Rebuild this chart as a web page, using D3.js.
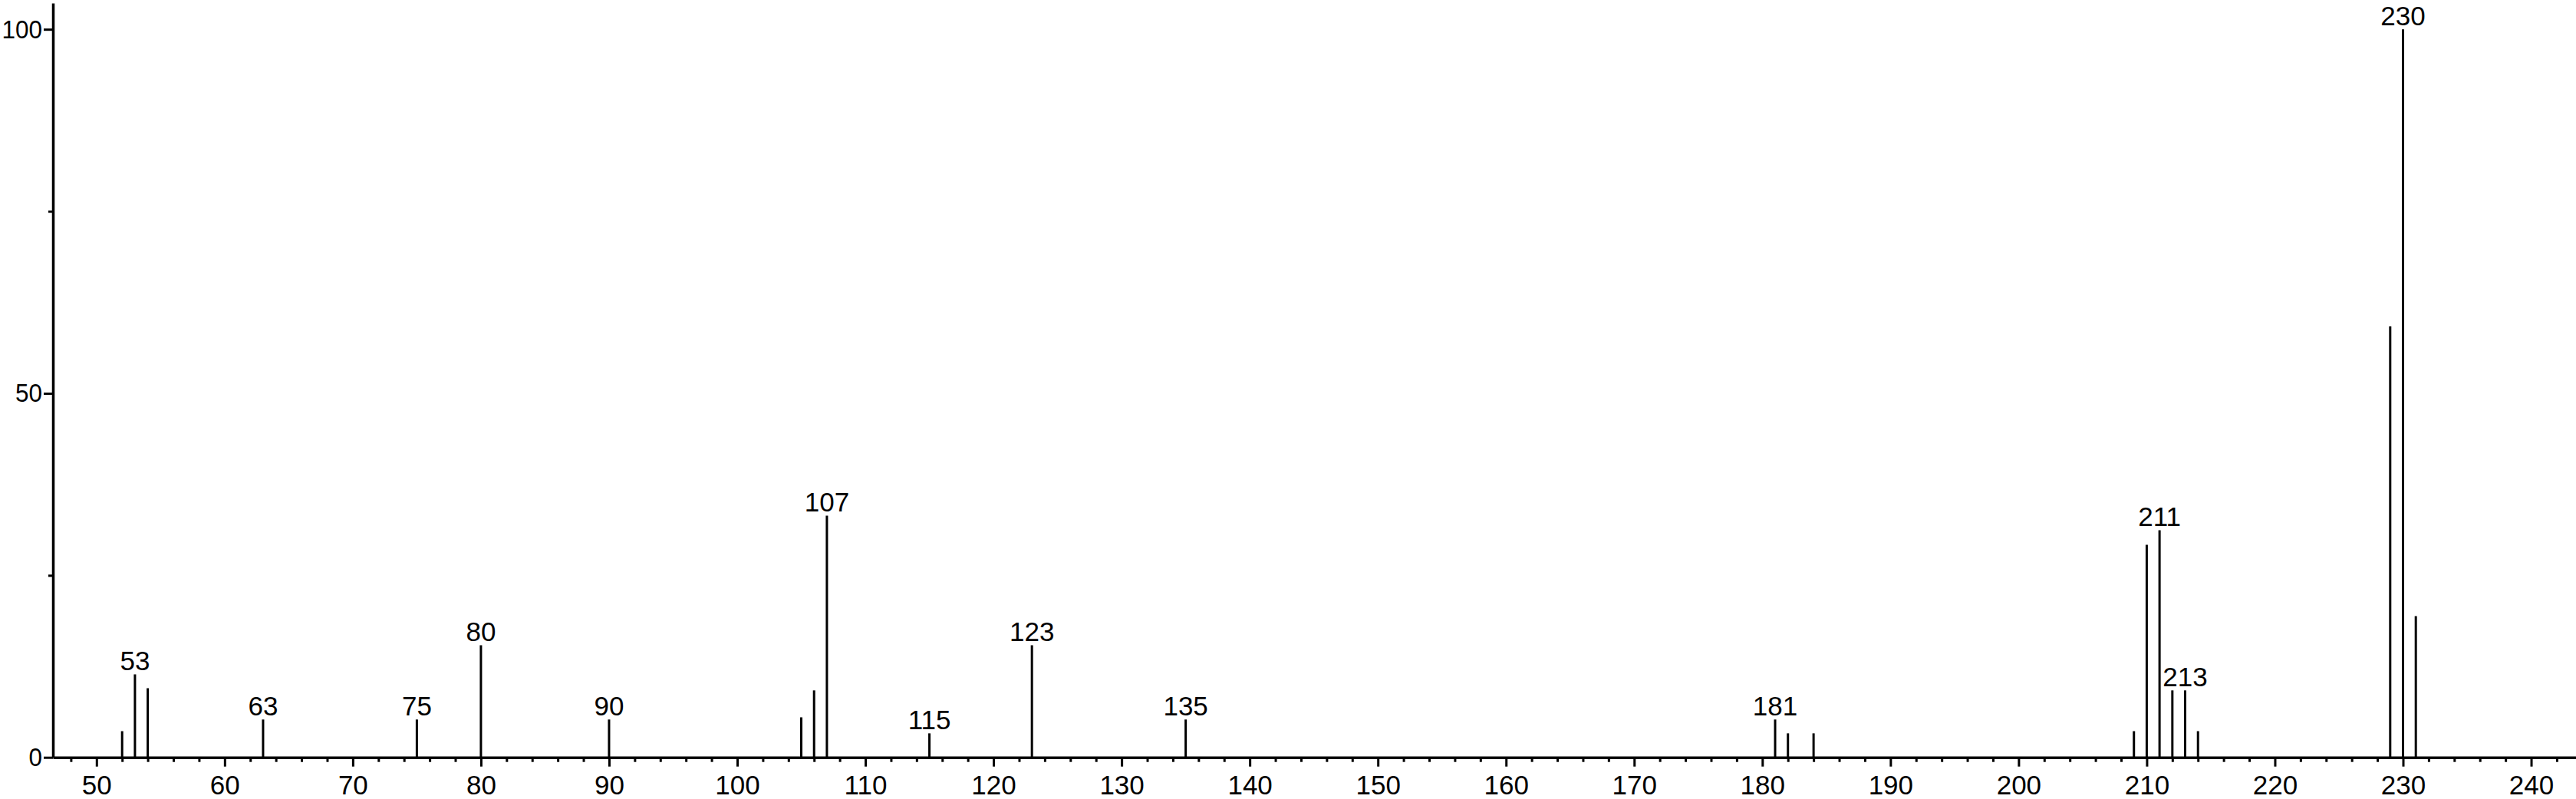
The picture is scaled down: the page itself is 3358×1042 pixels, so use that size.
<!DOCTYPE html>
<html>
<head>
<meta charset="utf-8">
<script src="https://cdn.jsdelivr.net/npm/d3@7"></script>
<style>
    body { margin: 0; background: #fff; }
    svg { display: block; }
    text { font-family: "Liberation Sans", Arial, sans-serif; fill: #000; }
</style>
</head>
<body>
<svg id="chart" width="3358" height="1042"></svg>
<script>
// mass spectrum: m/z and relative intensity (%)
const mzValues = [52, 53, 54, 63, 75, 80, 90, 105, 106, 107, 115, 123, 135,
    181, 182, 184, 209, 210, 211, 212, 213, 214, 229, 230, 231];
const intensities = [3.6, 11.4, 9.5, 5.2, 5.2, 15.4, 5.2, 5.5, 9.2, 33.2, 3.3, 15.4, 5.2,
    5.2, 3.3, 3.3, 3.6, 29.2, 31.2, 9.2, 9.2, 3.6, 59.2, 100, 19.4];
const labelledPeaks = [53, 63, 75, 80, 90, 107, 115, 123, 135, 181, 211, 213, 230];

const xMajorTicks = [50, 60, 70, 80, 90, 100, 110, 120, 130, 140, 150, 160, 170, 180, 190, 200, 210, 220, 230, 240];
const yMajorTicks = [0, 50, 100];
const yMinorTicks = [25, 75];

const peaks = mzValues.map((mz, i) => ({mz: mz, value: intensities[i]}));

const svg = d3.select("#chart");

const x = d3.scaleLinear().domain([46.6, 243.5]).range([69, 3358]);
const y = d3.scaleLinear().domain([0, 103.6]).range([987.7, 4]);

const xMinorTicks = d3.range(48, 244, 2).filter(v => v % 10 !== 0);

// minor ticks first, then major axis on top
svg.append("g")
    .attr("transform", "translate(0," + y(0) + ")")
    .call(d3.axisBottom(x).tickValues(xMinorTicks).tickSize(6).tickSizeOuter(0).tickFormat(""))
    .call(g => g.select(".domain").remove());

let xAxis = svg.append("g")
    .attr("transform", "translate(0," + y(0) + ")")
    .call(d3.axisBottom(x).tickValues(xMajorTicks).tickSize(12).tickSizeOuter(0).tickPadding(11));

svg.append("g")
    .attr("transform", "translate(" + x.range()[0] + ",0)")
    .call(d3.axisLeft(y).tickValues(yMinorTicks).tickSize(6).tickSizeOuter(0).tickFormat(""))
    .call(g => g.select(".domain").remove());

let yAxis = svg.append("g")
    .attr("transform", "translate(" + x.range()[0] + ",0)")
    .call(d3.axisLeft(y).tickValues(yMajorTicks).tickSize(12).tickSizeOuter(0).tickPadding(2));

svg.selectAll(".tick line").attr("stroke", "#000").attr("stroke-width", 3);
svg.selectAll(".domain").attr("stroke", "#000").attr("stroke-width", 3.5);
xAxis.selectAll(".tick text").attr("font-size", 35).attr("font-family", "Liberation Sans, Arial, sans-serif");
// y labels are a little narrower in the original, squeeze them so "100" fits
yAxis.selectAll(".tick text")
    .attr("font-size", 34)
    .attr("font-family", "Liberation Sans, Arial, sans-serif")
    .attr("textLength", d => String(d).length * 17.5)
    .attr("lengthAdjust", "spacingAndGlyphs");

// peak sticks
svg.append("g")
    .selectAll("line")
    .data(peaks)
    .join("line")
    .attr("x1", d => x(d.mz))
    .attr("x2", d => x(d.mz))
    .attr("y1", y(0))
    .attr("y2", d => y(d.value))
    .attr("stroke", "#000")
    .attr("stroke-width", 3);

// peak labels
svg.append("g")
    .selectAll("text")
    .data(peaks.filter(d => labelledPeaks.includes(d.mz)))
    .join("text")
    .attr("x", d => x(d.mz))
    .attr("y", d => y(d.value) - 5)
    .attr("text-anchor", "middle")
    .attr("font-size", 35)
    .text(d => d.mz);
</script>
</body>
</html>
